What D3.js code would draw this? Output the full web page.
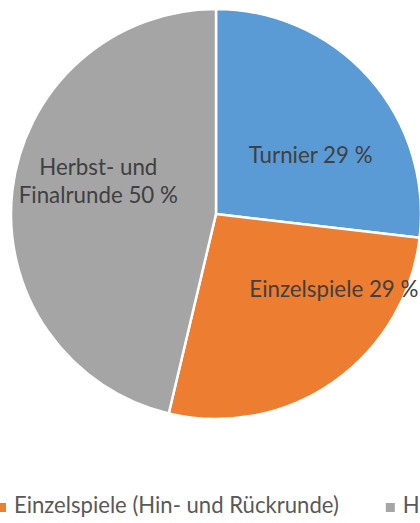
<!DOCTYPE html>
<html lang="de">
<head>
    <meta charset="UTF-8">
    <title>Spielanteile</title>
    <script src="https://d3js.org/d3.v7.min.js"></script>
    <style>
        body{
            margin: 0;
            background: #fff;
        }
        svg{
            display: block;
        }
        .slice-label{
            font-family: Lato, "Open Sans", sans-serif;
            font-size: 22.3px;
            fill: #404040;
        }
        .legend-label{
            font-family: Lato, "Open Sans", sans-serif;
            font-size: 22.1px;
            fill: #595959;
        }
    </style>
</head>
<body>
    <script>
        // data
        const categories = ["Turnier", "Einzelspiele (Hin- und Rückrunde)", "Herbst- und Finalrunde"]
        const labelLines = [["Turnier 29 %"], ["Einzelspiele 29 %"], ["Herbst- und", "Finalrunde 50 %"]]
        const values = [29, 29, 50]
        const colors = ["#5b9bd5", "#ed7d31", "#a5a5a5"]

        const svgSize = {width:420, height:523}
        const center = {x:216, y:214}
        const radius = 205

        const svg = d3.select("body")
                        .append("svg")
                        .attr("width", svgSize.width)
                        .attr("height", svgSize.height)

        const color = d3.scaleOrdinal().domain(categories).range(colors)

        const pie = d3.pie().sort(null).value(d => d.value)
        const arcs = pie(categories.map((c,i) => ({name:c, value:values[i], lines:labelLines[i]})))

        const arc = d3.arc().innerRadius(0).outerRadius(radius)
        const labelArc = d3.arc().innerRadius(120).outerRadius(120)

        const pieG = svg.append("g").attr("transform", `translate(${center.x},${center.y})`)

        pieG.selectAll("path")
            .data(arcs)
            .join("path")
            .attr("d", arc)
            .attr("fill", d => color(d.data.name))
            .attr("stroke", "#fff")
            .attr("stroke-width", 2.5)
            .attr("stroke-linejoin", "round")

        // Excel puts the labels a bit off the centroid, nudge them
        const nudge = [[5, 29], [49, -15], [1.5, -25]]
        const lineHeight = 28

        pieG.selectAll("text")
            .data(arcs)
            .join("text")
            .attr("class", "slice-label")
            .attr("text-anchor", "middle")
            .attr("transform", (d,i) => {
                const c = labelArc.centroid(d)
                return `translate(${c[0] + nudge[i][0]},${c[1] + nudge[i][1]})`
            })
            .selectAll("tspan")
            .data(d => d.data.lines)
            .join("tspan")
            .attr("x", 0)
            .attr("y", (d,i) => i * lineHeight)
            .text(d => d)

        // legend, runs off both sides like the original
        const legend = svg.append("g").attr("transform", "translate(0,513)")
        const items = legend.selectAll("g")
                        .data(categories)
                        .join("g")

        items.append("rect")
            .attr("y", -10)
            .attr("width", 9)
            .attr("height", 9)
            .attr("fill", d => color(d))

        items.append("text")
            .attr("class", "legend-label")
            .attr("x", 17)
            .text(d => d)

        // lay items out in a row, second item marker lands at x=-3
        const gap = 47
        let xs = []
        let x = 0
        items.each(function(d){
            xs.push(x)
            x += 17 + d3.select(this).select("text").node().getComputedTextLength() + gap
        })
        const shift = -3 - xs[1]
        items.attr("transform", (d,i) => `translate(${xs[i] + shift},0)`)
    </script>
</body>
</html>
